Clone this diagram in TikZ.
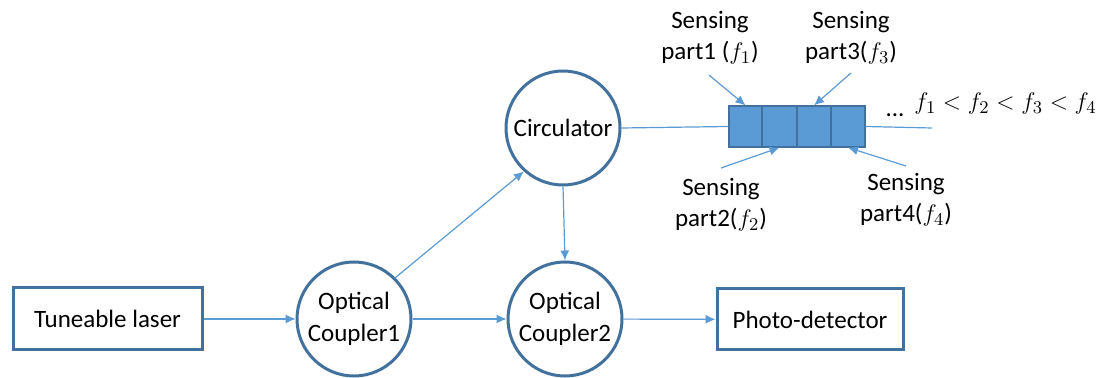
\documentclass[tikz,border=0pt]{standalone}
\usepackage{fontspec}
\setmainfont{Carlito}
\usetikzlibrary{arrows.meta}
\definecolor{edgeblue}{HTML}{41719C}
\definecolor{lineblue}{HTML}{5B9BD5}
\begin{document}
\begin{tikzpicture}[x=0.5pt,y=-0.5pt,
  font=\fontsize{12.5pt}{16pt}\selectfont,
  unit/.style={draw=edgeblue,line width=1.5pt,circle,minimum size=57pt,inner sep=0pt,align=center},
  blockbox/.style={draw=edgeblue,line width=1.5pt,rectangle,inner sep=0pt,align=center},
  seg/.style={draw=edgeblue,line width=0.6pt,fill=lineblue,rectangle,inner sep=0pt,minimum height=20.5pt},
  conn/.style={draw=lineblue,line width=0.6pt},
  arr/.style={conn,-{Latex[length=5pt,width=4.5pt]}},
  lbl/.style={align=center,font=\fontsize{12.5pt}{15.5pt}\selectfont}]
\useasboundingbox (0,0) rectangle (1101,378);
% main blocks
\node[blockbox,minimum width=94.5pt,minimum height=31pt] (laser) at (107.5,319) {Tuneable laser};
\node[unit] (c1) at (354,319) {Optical\\Coupler1};
\node[unit] (c2) at (565,319) {Optical\\Coupler2};
\node[unit] (circ) at (563,128) {Circulator};
\node[blockbox,minimum width=93pt,minimum height=30.5pt] (pd) at (810,319.5) {Photo-detector};
% sensing segments
\node[seg,minimum width=16.5pt] (s1) at (745.5,126.5) {};
\node[seg,minimum width=17.5pt] (s2) at (779.5,126.5) {};
\node[seg,minimum width=17pt] (s3) at (814,126.5) {};
\node[seg,minimum width=17pt] (s4) at (848,126.5) {};
\coordinate (fend) at (932,128);
% connectors
\draw[arr] (laser) -- (c1);
\draw[arr] (c1) -- (c2);
\draw[arr] (c2) -- (pd);
\draw[arr] (c1.45) -- (circ.228);
\draw[arr] (circ.south) -- (c2.north);
\draw[conn] (circ.east) -- (s1.west);
\draw[conn] (s4.east) -- (fend);
% labels
\node[lbl] (l1) at (710,38) {Sensing\\part1 ($f_1$)};
\node[lbl] (l3) at (851,38) {Sensing\\part3($f_3$)};
\node[lbl] (l2) at (721,205) {Sensing\\part2($f_2$)};
\node[lbl] (l4) at (906,200) {Sensing\\part4($f_4$)};
\coordinate (a1) at (709,75);
\coordinate (a3) at (851,73);
\coordinate (a2) at (721,168);
\coordinate (a4) at (906,166);
\draw[arr] (a1) -- (s1.north);
\draw[arr] (a3) -- (s3.north);
\draw[arr] (a2) -- (s2.south);
\draw[arr] (a4) -- (s4.south);
\node (dots) at (895,115) {...};
\node[anchor=west,inner sep=0pt,font=\fontsize{13pt}{16pt}\selectfont] (ineq) at (914,104) {$f_1 < f_2 < f_3 < f_4$};
\end{tikzpicture}
\end{document}
